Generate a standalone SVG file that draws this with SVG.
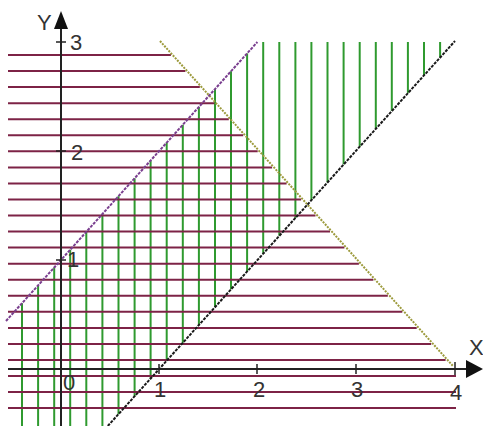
<svg xmlns="http://www.w3.org/2000/svg" width="483" height="426" viewBox="0 0 483 426">
<style>
.h{stroke:#7d2346;stroke-width:2}
.v{stroke:#2f9a2f;stroke-width:2}
.ax{stroke:#222;stroke-width:2}
.tk{stroke:#222;stroke-width:1.5}
.lbl{font-family:"Liberation Sans",Arial,sans-serif;font-size:22px;fill:#333}
</style>
<rect width="483" height="426" fill="#fff"/>
<g id="green-hatch">
<line class="v" x1="22" y1="303.3" x2="22" y2="426"/>
<line class="v" x1="38.1" y1="285.4" x2="38.1" y2="426"/>
<line class="v" x1="54.2" y1="267.6" x2="54.2" y2="426"/>
<line class="v" x1="70.2" y1="249.7" x2="70.2" y2="426"/>
<line class="v" x1="86.3" y1="231.9" x2="86.3" y2="426"/>
<line class="v" x1="102.4" y1="214" x2="102.4" y2="426"/>
<line class="v" x1="118.5" y1="196.2" x2="118.5" y2="414.2"/>
<line class="v" x1="134.6" y1="178.3" x2="134.6" y2="396.3"/>
<line class="v" x1="150.6" y1="160.5" x2="150.6" y2="378.5"/>
<line class="v" x1="166.7" y1="142.6" x2="166.7" y2="360.6"/>
<line class="v" x1="182.8" y1="124.8" x2="182.8" y2="342.8"/>
<line class="v" x1="198.9" y1="106.9" x2="198.9" y2="324.9"/>
<line class="v" x1="215" y1="89.1" x2="215" y2="307.1"/>
<line class="v" x1="231" y1="71.3" x2="231" y2="289.3"/>
<line class="v" x1="247.1" y1="53.4" x2="247.1" y2="271.4"/>
<line class="v" x1="263.2" y1="42" x2="263.2" y2="253.6"/>
<line class="v" x1="279.3" y1="42" x2="279.3" y2="235.7"/>
<line class="v" x1="295.4" y1="42" x2="295.4" y2="217.9"/>
<line class="v" x1="311.4" y1="42" x2="311.4" y2="200"/>
<line class="v" x1="327.5" y1="42" x2="327.5" y2="182.2"/>
<line class="v" x1="343.6" y1="42" x2="343.6" y2="164.3"/>
<line class="v" x1="359.7" y1="42" x2="359.7" y2="146.5"/>
<line class="v" x1="375.8" y1="42" x2="375.8" y2="128.6"/>
<line class="v" x1="391.8" y1="42" x2="391.8" y2="110.8"/>
<line class="v" x1="407.9" y1="42" x2="407.9" y2="92.9"/>
<line class="v" x1="424" y1="42" x2="424" y2="75.1"/>
<line class="v" x1="440.1" y1="42" x2="440.1" y2="57.2"/>
</g>
<g id="maroon-hatch">
<line class="h" x1="8" y1="55" x2="170.9" y2="55"/>
<line class="h" x1="8" y1="71" x2="185.4" y2="71"/>
<line class="h" x1="8" y1="87.1" x2="199.8" y2="87.1"/>
<line class="h" x1="8" y1="103.2" x2="214.3" y2="103.2"/>
<line class="h" x1="8" y1="119.2" x2="228.8" y2="119.2"/>
<line class="h" x1="8" y1="135.3" x2="243.2" y2="135.3"/>
<line class="h" x1="8" y1="151.3" x2="257.7" y2="151.3"/>
<line class="h" x1="8" y1="167.4" x2="272.1" y2="167.4"/>
<line class="h" x1="8" y1="183.4" x2="286.6" y2="183.4"/>
<line class="h" x1="8" y1="199.5" x2="301.1" y2="199.5"/>
<line class="h" x1="8" y1="215.5" x2="315.5" y2="215.5"/>
<line class="h" x1="8" y1="231.6" x2="330" y2="231.6"/>
<line class="h" x1="8" y1="247.6" x2="344.4" y2="247.6"/>
<line class="h" x1="8" y1="263.7" x2="358.9" y2="263.7"/>
<line class="h" x1="8" y1="279.7" x2="373.4" y2="279.7"/>
<line class="h" x1="8" y1="295.8" x2="387.8" y2="295.8"/>
<line class="h" x1="8" y1="311.8" x2="402.3" y2="311.8"/>
<line class="h" x1="8" y1="327.9" x2="416.7" y2="327.9"/>
<line class="h" x1="8" y1="343.9" x2="431.2" y2="343.9"/>
<line class="h" x1="8" y1="360" x2="445.6" y2="360"/>
<line class="h" x1="8" y1="376" x2="456" y2="376"/>
<line class="h" x1="8" y1="392" x2="456" y2="392"/>
<line class="h" x1="8" y1="408.1" x2="456" y2="408.1"/>
</g>
<g id="boundaries">
<line x1="160" y1="41" x2="453" y2="366" stroke="#9c9a3c" stroke-width="2" stroke-dasharray="2 1.2"/>
<line x1="6" y1="321" x2="257.4" y2="42" stroke="#7a3f8f" stroke-width="2" stroke-dasharray="3 1.2"/>
<line x1="107.8" y1="426" x2="455" y2="41" stroke="#1a1a1a" stroke-width="2" stroke-dasharray="3 1.2"/>
</g>
<g id="axes">
<line class="ax" x1="61" y1="426" x2="61" y2="24"/>
<polygon points="61,11 54,29 68,29" fill="#111"/>
<line class="ax" x1="8" y1="369" x2="470" y2="369"/>
<polygon points="483,369 466,360 466,378" fill="#111"/>
<line class="tk" x1="56" y1="42" x2="66" y2="42"/>
<line class="tk" x1="56" y1="151" x2="66" y2="151"/>
<line class="tk" x1="56" y1="260" x2="66" y2="260"/>
<line class="tk" x1="159" y1="364" x2="159" y2="374"/>
<line class="tk" x1="257" y1="364" x2="257" y2="374"/>
<line class="tk" x1="356" y1="364" x2="356" y2="374"/>
<line class="tk" x1="455" y1="362" x2="455" y2="375"/>
</g>
<g id="labels">
<text class="lbl" x="37" y="30">Y</text>
<text class="lbl" x="469" y="355">X</text>
<text class="lbl" x="70" y="50">3</text>
<text class="lbl" x="71" y="160">2</text>
<text class="lbl" x="67" y="267">1</text>
<text class="lbl" x="63" y="390">0</text>
<text class="lbl" x="160" y="397" text-anchor="middle">1</text>
<text class="lbl" x="259" y="397" text-anchor="middle">2</text>
<text class="lbl" x="357" y="397" text-anchor="middle">3</text>
<text class="lbl" x="456" y="400" text-anchor="middle">4</text>
</g>
</svg>
